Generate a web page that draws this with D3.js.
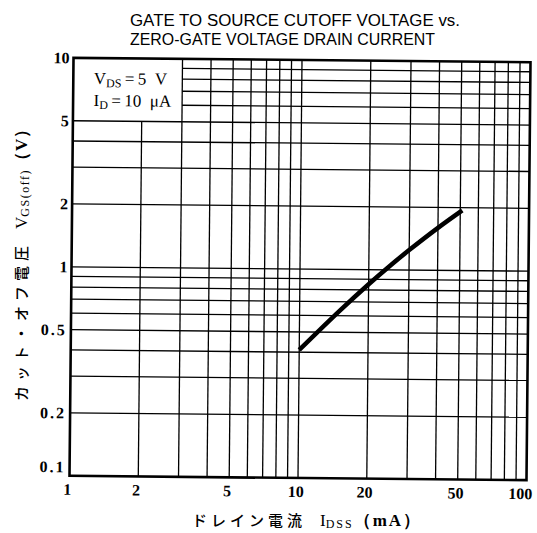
<!DOCTYPE html>
<meta charset="utf-8">
<style>
body { margin: 0; background: #fff; }
svg { display: block; }
.grid line { stroke: #000; stroke-width: 1.3; }
.tick-y, .tick-x { font-family: "Liberation Serif", serif; font-weight: bold; font-size: 16px; }
.title { font-family: "Liberation Sans", sans-serif; font-size: 16px; }
.note { font-family: "Liberation Serif", serif; font-size: 17px; }
.axis-title { font-family: "Noto Sans CJK JP", sans-serif; font-size: 15px; font-weight: 500; }
</style>
<svg width="537" height="533"></svg>
<script src="https://d3js.org/d3.v7.min.js"></script>
<script>

// values
var idss   = [10, 15, 20, 25, 30, 40, 51];          // mA
var vgsoff = [0.41, 0.635, 0.852, 1.056, 1.246, 1.596, 1.94]; // V
var xTicks = [1, 2, 5, 10, 20, 50, 100];
var yTicks = [0.1, 0.2, 0.5, 1, 2, 5, 10];

var svg = d3.select("svg");
var pLeft = 71.5, pTop = 60, width = 457, height = 418;

// the scan is a little crooked
var g = svg.append("g")
    .attr("transform", "rotate(0.55," + (pLeft + width / 2) + "," + (pTop + height / 2) + ")");

var x = d3.scaleLog().domain([1, 100]).range([pLeft, pLeft + width]);
var y = d3.scaleLog().domain([0.1, 10]).range([pTop + height, pTop]);

// grid at 2..9 of each decade, plus the 10 / 1 lines
var xGrid = [], yGrid = [];
[1, 10].forEach(function(d) {
  for (var m = 2; m <= 9; m++) xGrid.push(d * m);
});
xGrid.push(10);
[0.1, 1].forEach(function(d) {
  for (var m = 2; m <= 9; m++) yGrid.push(+(d * m).toFixed(2));
});
yGrid.push(1);

var grid = g.append("g").attr("class", "grid");

// the box with the conditions (x 1..3, y 5..10) has no grid inside
grid.selectAll(".v").data(xGrid).enter().append("line")
    .attr("x1", function(d) { return x(d); })
    .attr("x2", function(d) { return x(d); })
    .attr("y1", function(d) { return d < 3 ? y(5) : y(10); })
    .attr("y2", y(0.1));

grid.selectAll(".h").data(yGrid).enter().append("line")
    .attr("y1", function(d) { return y(d); })
    .attr("y2", function(d) { return y(d); })
    .attr("x1", function(d) { return d > 5 ? x(3) : x(1); })
    .attr("x2", x(100));

g.append("rect")
    .attr("x", pLeft).attr("y", pTop)
    .attr("width", width).attr("height", height)
    .attr("fill", "none").attr("stroke", "#000").attr("stroke-width", 2.6);

// curve
var pts = idss.map(function(d, i) { return [d, vgsoff[i]]; });
g.append("path")
    .datum(pts)
    .attr("fill", "none")
    .attr("stroke", "#000")
    .attr("stroke-width", 4.5)
    .attr("d", d3.line()
      .x(function(d) { return x(d[0]); })
      .y(function(d) { return y(d[1]); })
      .curve(d3.curveCatmullRom));

// tick labels
g.selectAll(".tick-y").data(yTicks).enter().append("text")
    .attr("class", "tick-y")
    .attr("x", pLeft - 4)
    .attr("y", function(d) { return y(d) + (d == 0.1 ? -9 : 0); })
    .attr("dy", "0.35em")
    .attr("text-anchor", "end")
    .style("letter-spacing", function(d) { return d < 1 ? "2px" : "0px"; })
    .text(function(d) { return d; });

g.selectAll(".tick-x").data(xTicks).enter().append("text")
    .attr("class", "tick-x")
    .attr("x", function(d) { return x(d) + (d == 100 ? -6 : -2); })
    .attr("y", pTop + height + 19)
    .attr("text-anchor", "middle")
    .text(function(d) { return d; });

// title
svg.append("text").attr("class", "title")
    .attr("x", 130).attr("y", 26)
    .attr("textLength", 330).attr("lengthAdjust", "spacingAndGlyphs")
    .text("GATE TO SOURCE CUTOFF VOLTAGE vs.");
svg.append("text").attr("class", "title")
    .attr("x", 130).attr("y", 45)
    .attr("textLength", 305).attr("lengthAdjust", "spacingAndGlyphs")
    .text("ZERO-GATE VOLTAGE DRAIN CURRENT");

// conditions
var n1 = g.append("text").attr("class", "note").attr("x", 92).attr("y", 86);
n1.append("tspan").text("V");
n1.append("tspan").attr("font-size", "12px").attr("dy", 3).text("DS");
n1.append("tspan").attr("dy", -3).text("\u2009=\u20095\u2002V");
var n2 = g.append("text").attr("class", "note").attr("x", 92).attr("y", 108);
n2.append("tspan").text("I");
n2.append("tspan").attr("font-size", "12px").attr("dy", 3).text("D");
n2.append("tspan").attr("dy", -3).text("\u2009=\u200910\u2002\u03bcA");

// axis titles
var xt = svg.append("text").attr("x", 192).attr("y", 526);
xt.append("tspan").attr("class", "axis-title").style("letter-spacing", "4px").text("ドレイン電流");
xt.append("tspan").attr("font-family", "Liberation Serif").attr("font-size", "17px").attr("dx", 14).text("I");
xt.append("tspan").attr("font-family", "Liberation Serif").attr("font-size", "12px").attr("dy", 2)
    .style("letter-spacing", "2px").text("DSS");
xt.append("tspan").attr("font-family", "Liberation Serif").attr("font-weight", "bold").attr("font-size", "17px").attr("dy", -2)
    .style("letter-spacing", "2px").text("（mA）");

var yt = svg.append("text").attr("transform", "translate(27,401) rotate(-90)");
yt.append("tspan").attr("class", "axis-title").style("letter-spacing", "5px").text("カット・オフ電圧");
yt.append("tspan").attr("font-family", "Liberation Serif").attr("font-size", "17px").attr("dx", 12).text("V");
yt.append("tspan").attr("font-family", "Liberation Serif").attr("font-size", "12px").attr("dy", 2)
    .style("letter-spacing", "1.5px").text("GS(off)");
yt.append("tspan").attr("font-family", "Liberation Serif").attr("font-weight", "bold").attr("font-size", "17px").attr("dy", -2)
    .style("letter-spacing", "1px").text("（V）");

</script>
